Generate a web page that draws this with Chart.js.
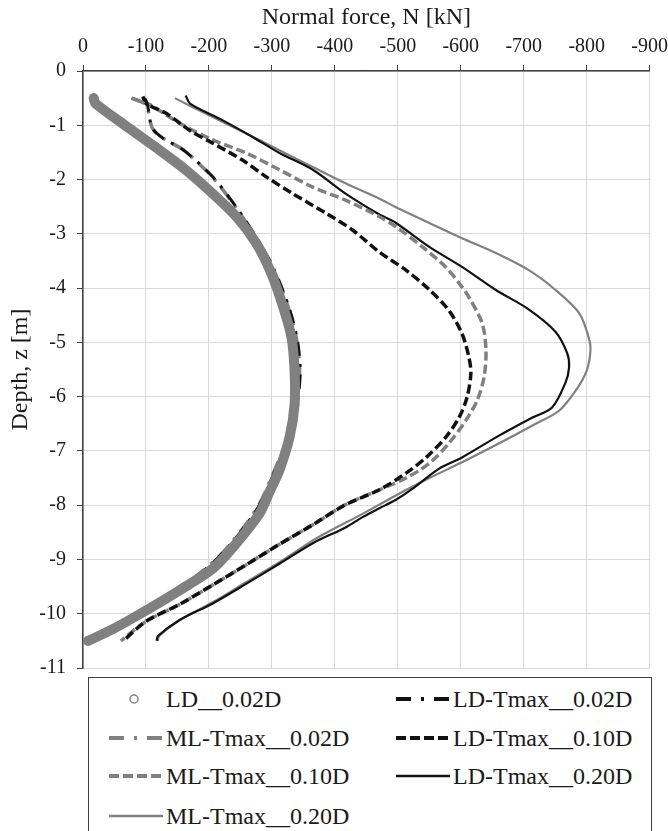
<!DOCTYPE html>
<html><head><meta charset="utf-8">
<script src="https://cdn.jsdelivr.net/npm/chart.js@4.4.1/dist/chart.umd.min.js"></script>
<style>
html,body{margin:0;padding:0;background:#fff;}
#wrap{position:relative;width:668px;height:831px;overflow:hidden;font-family:'Liberation Serif','Times New Roman',serif;}
#c{position:absolute;left:0;top:0;}
#legend{position:absolute;left:88px;top:677px;width:564px;height:180px;border:1.5px solid #404040;box-sizing:border-box;background:#fff;}
.item{position:absolute;height:30px;display:flex;align-items:center;font-size:24px;color:#1a1a1a;white-space:nowrap;}
.item svg{display:block;}
</style></head>
<body>
<div id="wrap"><canvas id="c" width="674" height="691" style="width:674px;height:691px"></canvas><div id="legend"></div></div>
<script>
// ---- data ----
const seriesNames = ["LD__0.02D","LD-Tmax__0.02D","ML-Tmax__0.02D","LD-Tmax__0.10D","ML-Tmax__0.10D","LD-Tmax__0.20D","ML-Tmax__0.20D"];

const ld002_N = [-17,-20,-63,-116,-164,-206,-244,-275,-298,-316,-331,-336,-336,-328,-312,-296,-280,-243,-206,-153,-100,-48,-8];
const ld002_z = [-0.5,-0.6,-0.97,-1.41,-1.83,-2.26,-2.69,-3.17,-3.7,-4.28,-4.9,-5.52,-6.15,-6.75,-7.35,-7.76,-8.16,-8.71,-9.17,-9.57,-9.94,-10.28,-10.5];

const ldT002_N = [-98,-102,-110,-126,-160,-206,-243,-275,-297,-316,-331,-341,-345,-342,-334,-318,-300,-280,-250,-212,-160,-100,-50,-12];
const ldT002_z = [-0.5,-0.6,-1.05,-1.23,-1.46,-1.95,-2.5,-3.06,-3.5,-4.0,-4.5,-5.0,-5.5,-6.0,-6.5,-7.0,-7.5,-8.0,-8.5,-9.0,-9.5,-10.0,-10.3,-10.5];

const mlT002_N = [-77,-100,-110,-126,-160,-205,-242,-274,-296,-315,-330,-340,-344,-341,-333,-317,-299,-279,-249,-211,-158,-98,-48,-10];
const mlT002_z = [-0.5,-0.63,-1.05,-1.23,-1.46,-1.95,-2.5,-3.06,-3.5,-4.0,-4.5,-5.0,-5.5,-6.0,-6.5,-7.0,-7.5,-8.0,-8.5,-9.0,-9.5,-10.0,-10.3,-10.5];

const ldT010_N = [-95,-100,-132,-169,-206,-253,-291,-333,-386,-428,-470,-513,-550,-581,-602,-613,-616,-610,-597,-576,-545,-513,-470,-417,-365,-312,-259,-206,-153,-100,-64];
const ldT010_z = [-0.47,-0.6,-0.78,-1.09,-1.33,-1.64,-1.95,-2.26,-2.62,-2.93,-3.33,-3.67,-4.03,-4.41,-4.84,-5.28,-5.57,-6.01,-6.39,-6.75,-7.12,-7.41,-7.72,-7.99,-8.36,-8.72,-9.1,-9.47,-9.83,-10.14,-10.5];

const mlT010_N = [-77,-106,-153,-206,-259,-312,-365,-417,-470,-497,-539,-576,-600,-613,-634,-640,-637,-626,-608,-581,-550,-513,-470,-417,-365,-312,-259,-206,-153,-100,-60];
const mlT010_z = [-0.5,-0.62,-0.96,-1.27,-1.51,-1.82,-2.14,-2.38,-2.68,-2.87,-3.24,-3.61,-3.95,-4.17,-4.65,-5.14,-5.64,-6.07,-6.44,-6.86,-7.23,-7.5,-7.72,-7.99,-8.36,-8.72,-9.1,-9.47,-9.83,-10.14,-10.5];

const ldT020_N = [-163,-170,-222,-270,-312,-365,-417,-470,-497,-550,-602,-655,-705,-750,-769,-772,-766,-745,-713,-656,-602,-565,-523,-497,-470,-444,-417,-365,-312,-259,-206,-153,-119,-117];
const ldT020_z = [-0.45,-0.6,-0.91,-1.22,-1.51,-1.82,-2.26,-2.64,-2.8,-3.24,-3.61,-4.03,-4.37,-4.8,-5.2,-5.46,-5.75,-6.2,-6.39,-6.75,-7.12,-7.33,-7.7,-7.9,-8.06,-8.22,-8.41,-8.7,-9.08,-9.45,-9.81,-10.12,-10.41,-10.5];

const mlT020_N = [-146,-206,-259,-312,-365,-417,-470,-497,-550,-602,-655,-708,-750,-788,-803,-806,-800,-783,-756,-719,-661,-602,-550,-497,-444,-391,-365,-312,-259,-206,-153,-121,-119];
const mlT020_z = [-0.5,-0.85,-1.15,-1.46,-1.77,-2.07,-2.35,-2.51,-2.8,-3.08,-3.35,-3.67,-4.03,-4.46,-4.9,-5.14,-5.52,-5.88,-6.26,-6.5,-6.86,-7.21,-7.5,-7.82,-8.16,-8.48,-8.65,-9.05,-9.42,-9.79,-10.12,-10.41,-10.5];

const xTicks = [0,-100,-200,-300,-400,-500,-600,-700,-800,-900];
const yTicks = [0,-1,-2,-3,-4,-5,-6,-7,-8,-9,-10,-11];

// ---- styles ----
const GRAY = '#808080', BLACK = '#111111', TXT = '#1a1a1a';
const pairs = [[ld002_N,ld002_z],[ldT002_N,ldT002_z],[mlT002_N,mlT002_z],[ldT010_N,ldT010_z],[mlT010_N,mlT010_z],[ldT020_N,ldT020_z],[mlT020_N,mlT020_z]];
const styles = [
  {color:GRAY, width:10, dash:[], marker:true, legendDash:null},
  {color:BLACK, width:3, dash:[14,8,3,8], legendDash:'15 10 3 10'},
  {color:GRAY, width:3.5, dash:[14,8,3,8], legendDash:'15 10 3 10'},
  {color:BLACK, width:3.5, dash:[9,4], legendDash:'10 4'},
  {color:GRAY, width:3.5, dash:[9,4], legendDash:'10 4'},
  {color:BLACK, width:2.2, dash:[], legendDash:''},
  {color:GRAY, width:2.2, dash:[], legendDash:''}
];
const drawOrder = [0,1,2,3,4,5,6];

const datasets = pairs.map((p,i)=>{
  const st = styles[i];
  return {
    label: seriesNames[i],
    data: p[0].map((n,k)=>({x:n,y:p[1][k]})),
    showLine: true,
    borderColor: st.color,
    borderWidth: st.width,
    borderDash: st.dash,
    borderCapStyle: st.marker ? 'round' : 'butt',
    borderJoinStyle: 'round',
    tension: 0.3,
    pointRadius: st.marker ? 4 : 0,
    pointBorderWidth: st.marker ? 1.5 : 0,
    pointBorderColor: GRAY,
    pointBackgroundColor: 'rgba(0,0,0,0)',
    order: drawOrder[i]
  };
});

Chart.defaults.font.family = "'Liberation Serif','Times New Roman',serif";
Chart.defaults.color = TXT;

new Chart(document.getElementById('c'), {
  type: 'scatter',
  data: {datasets},
  options: {
    responsive: false,
    animation: false,
    layout: {padding: 0},
    plugins: {legend: {display: false}, tooltip: {enabled: false}},
    scales: {
      x: {
        type: 'linear', position: 'top', reverse: true,
        min: xTicks[xTicks.length-1], max: xTicks[0],
        afterBuildTicks: s => { s.ticks = xTicks.map(v=>({value:v})); },
        afterFit: s => { s.height = 71; },
        ticks: {font: {size: 20}, color: TXT, padding: 6, maxRotation: 0},
        grid: {color: '#d9d9d9', lineWidth: 1, tickColor: '#404040', tickLength: 6},
        border: {color: '#404040', width: 1.5},
        title: {display: true, text: 'Normal force, N [kN]', font: {size: 24}, color: TXT, padding: {top: 3, bottom: 0}}
      },
      y: {
        type: 'linear', position: 'left',
        min: yTicks[yTicks.length-1], max: yTicks[0],
        afterBuildTicks: s => { s.ticks = yTicks.map(v=>({value:v})); },
        afterFit: s => { s.width = 83; },
        ticks: {font: {size: 20}, color: TXT, padding: 11},
        grid: {color: '#d9d9d9', lineWidth: 1, tickColor: '#404040', tickLength: 6},
        border: {color: '#404040', width: 1.5},
        title: {display: true, text: 'Depth, z [m]', font: {size: 24}, color: TXT, padding: {top: 6, bottom: 0}}
      }
    }
  }
});

// ---- legend (2 columns, row-major) ----
const leg = document.getElementById('legend');
const rowY = [21, 60, 98, 138];
const colX = [[20, 77], [307, 364]];
seriesNames.forEach((name, i) => {
  const st = styles[i];
  const r = Math.floor(i/2), c = i % 2;
  const div = document.createElement('div');
  div.className = 'item';
  div.style.left = colX[c][0] + 'px';
  div.style.top = (rowY[r] - 15) + 'px';
  let svg;
  if (st.marker) {
    svg = `<svg width="56" height="20"><circle cx="25" cy="10" r="4" fill="none" stroke="${GRAY}" stroke-width="1.5"/></svg>`;
  } else {
    svg = `<svg width="56" height="20"><line x1="0" y1="10" x2="54" y2="10" stroke="${st.color}" stroke-width="${st.width < 3 ? 2.5 : 4}" ${st.legendDash ? `stroke-dasharray="${st.legendDash}"` : ''}/></svg>`;
  }
  div.innerHTML = svg + `<span style="margin-left:${colX[c][1]-colX[c][0]-56}px">${name}</span>`;
  leg.appendChild(div);
});
</script>
</body></html>
